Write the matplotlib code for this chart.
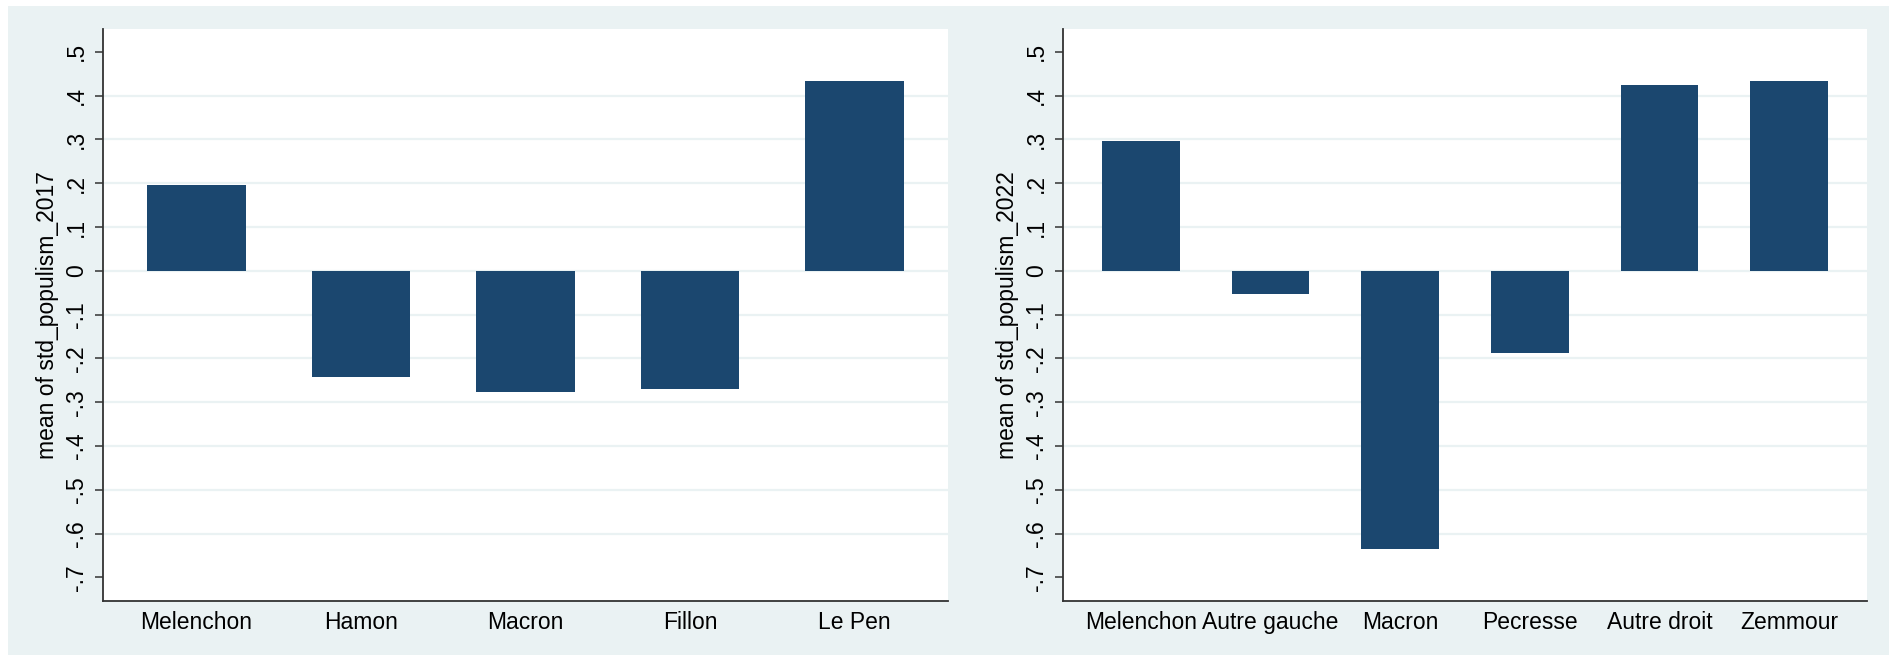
import matplotlib
matplotlib.use("Agg")
import matplotlib.pyplot as plt
from matplotlib.patches import Rectangle

# ---- data ----
cands_2017 = ["Melenchon", "Hamon", "Macron", "Fillon", "Le Pen"]
vals_2017 = [0.196, -0.242, -0.278, -0.270, 0.433]

cands_2022 = ["Melenchon", "Autre gauche", "Macron", "Pecresse", "Autre droit", "Zemmour"]
vals_2022 = [0.296, -0.052, -0.635, -0.187, 0.424, 0.433]

ytick_vals = [-0.7, -0.6, -0.5, -0.4, -0.3, -0.2, -0.1, 0, 0.1, 0.2, 0.3, 0.4, 0.5]
ytick_labels = ["-.7", "-.6", "-.5", "-.4", "-.3", "-.2", "-.1", "0", ".1", ".2", ".3", ".4", ".5"]
grid_vals = [-0.6, -0.5, -0.4, -0.3, -0.2, -0.1, 0, 0.1, 0.2, 0.3, 0.4]

ylabels = ["mean of std_populism_2017", "mean of std_populism_2022"]

# ---- style ----
plt.rcParams["font.family"] = ["Liberation Sans", "DejaVu Sans"]
BG = "#EAF2F3"
BAR = "#1B476F"
AX = "#333333"
FS = 16.5

W, H = 1890, 656
fig = plt.figure(figsize=(W / 100, H / 100), dpi=100)
fig.patch.set_facecolor("white")
fig.add_artist(Rectangle((8 / W, 1 / H), 1 - 8 / W, 1 - 7 / H,
                         transform=fig.transFigure, facecolor=BG,
                         edgecolor="none", zorder=-10))

top_px, bot_px = 29, 600.7
panels = [
    (103, 948, cands_2017, vals_2017, ylabels[0], (-0.568, 4.568)),
    (1063, 1867, cands_2022, vals_2022, ylabels[1], (-0.6, 5.6)),
]

for x0, x1, cats, vals, ylab, xl in panels:
    ax = fig.add_axes([x0 / W, 1 - bot_px / H, (x1 - x0) / W, (bot_px - top_px) / H])
    ax.set_facecolor("white")
    pos = list(range(len(cats)))
    ax.bar(pos, vals, width=0.6, color=BAR, zorder=3)
    for g in grid_vals:
        ax.axhline(g, color=BG, lw=1.6, zorder=1)
    ax.set_xlim(*xl)
    ax.set_ylim(-0.7534, 0.552)
    ax.set_yticks(ytick_vals)
    ax.set_yticklabels(ytick_labels, rotation=90, va="center", fontsize=FS)
    ax.set_xticks(pos)
    ax.set_xticklabels(cats, fontsize=FS)
    ax.tick_params(axis="x", length=0, pad=7.5)
    ax.tick_params(axis="y", length=5.8, width=1.1, color=AX, pad=5)
    for s in ["top", "right"]:
        ax.spines[s].set_visible(False)
    for s in ["left", "bottom"]:
        ax.spines[s].set_color(AX)
        ax.spines[s].set_linewidth(1.3)
    ax.set_ylabel(ylab, fontsize=FS)
    ax.yaxis.set_label_coords(-44 / (x1 - x0), 0.5)

fig.savefig("out.png", dpi=100, facecolor=fig.get_facecolor())
